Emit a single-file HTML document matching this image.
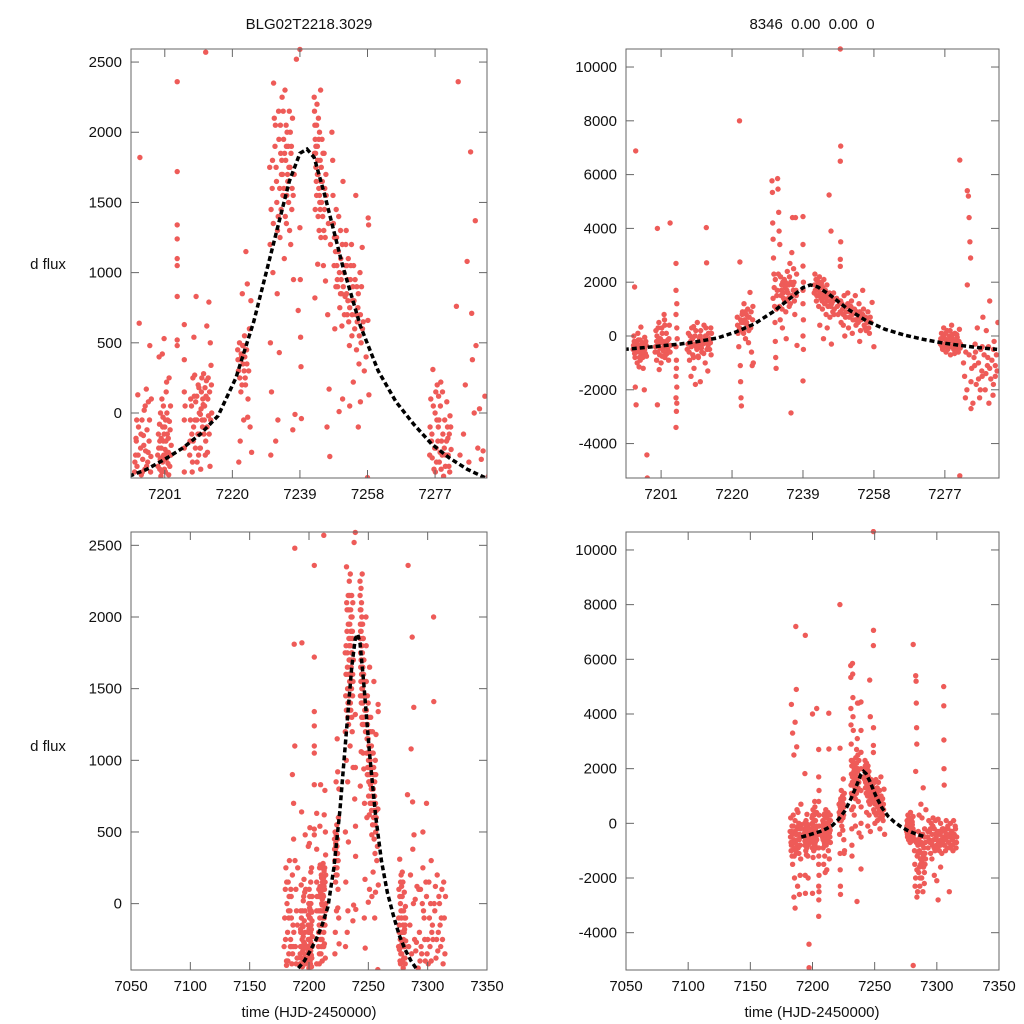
<!DOCTYPE html>
<html><head><meta charset="utf-8"><style>
html,body{margin:0;padding:0;background:#fff;}
svg{display:block;font-family:"Liberation Sans",sans-serif;}
</style></head><body>
<svg id="chart" width="1024" height="1024" viewBox="0 0 1024 1024" xmlns="http://www.w3.org/2000/svg">
<text x="309" y="29" font-size="15" text-anchor="middle" fill="#111">BLG02T2218.3029</text>
<text x="812" y="29" font-size="15" text-anchor="middle" fill="#111" xml:space="preserve">8346  0.00  0.00  0</text>
<text x="48" y="269" font-size="15" text-anchor="middle" fill="#111">d flux</text>
<text x="48" y="751" font-size="15" text-anchor="middle" fill="#111">d flux</text>
<text x="309" y="1017" font-size="15" text-anchor="middle" fill="#111">time (HJD-2450000)</text>
<text x="812" y="1017" font-size="15" text-anchor="middle" fill="#111">time (HJD-2450000)</text>
</svg>
<script>
const dataA = [
[7179,-300],[7179.5,-100],[7180,100],[7180.5,250],[7181,-400],[7181.5,0],[7182,-200],[7182.5,150],[7183,-350],[7183.5,300],[7184,-50],[7184.5,-250],[7185,50],[7185.5,-420],[7186,200],[7186.5,-150],[7187,700],[7187.5,1810],[7188,2480],[7188.5,-300],[7189,100],[7189.5,-50],[7190,-380],[7190.5,250],[7181,-430],[7183,-100],[7185,-300],[7187,450],[7188,1100],[7186,900],
[7192.5,-420],[7192.8,-300],[7193,-200],[7193.2,-380],[7193.4,130],[7193.6,-100],[7193.8,640],[7194,1820],[7194.2,-250],[7194.4,-440],[7194.6,-50],[7194.8,-330],[7195,-160],[7195.2,20],[7195.4,-400],[7195.6,-270],[7195.8,170],[7196,-120],[7196.2,-350],[7196.4,80],[7196.6,-200],[7196.8,480],[7197,-420],[7197.2,100],
[7199,-300],[7199.2,-150],[7199.4,400],[7199.6,-400],[7199.8,0],[7200,-250],[7200.2,100],[7200.4,-350],[7200.6,-200],[7200.8,530],[7201,-100],[7201.2,-420],[7201.4,150],[7201.6,-280],[7201.8,-50],[7202,-180],[7202.2,250],[7202.4,-380],[7202.6,50],[7202.8,-230],[7200.1,-320],[7200.5,-30],[7201.1,-260],[7201.5,220],[7201.9,-360],[7200.3,420],[7199.9,-450],[7202.5,-120],[7201.3,-200],[7200.7,-300],
[7204.5,2360],[7204.5,1720],[7204.5,1340],[7204.5,1240],[7204.5,1100],[7204.5,1050],[7204.5,830],[7204.5,520],[7204.5,480],[7206.5,630],[7206.5,380],[7206.5,150],[7206.5,-50],[7206.5,-250],[7206.5,-420],[7206.7,50],
[7208,-300],[7208.3,100],[7208.6,-150],[7208.9,250],[7209.2,540],[7209.5,-50],[7209.8,830],[7210.1,-350],[7210.4,200],[7210.7,0],[7211,-250],[7211.3,150],[7211.6,-100],[7211.9,280],[7212.2,50],[7212.5,-200],[7212.8,620],[7213.1,100],[7213.4,790],[7213.7,-380],[7214,340],[7208.2,-50],[7209,-200],[7209.7,80],[7210.5,-300],[7211.2,30],[7212,-150],[7212.7,230],[7213.3,-20],[7210,120],[7211.5,-50],[7212.3,180],[7213,-280],[7213.8,500],[7214.2,0],[7209.4,270],[7210.8,-150],[7211.8,60],
[7221.5,450],[7221.7,300],[7222,500],[7222.2,-200],[7222.4,150],[7222.6,400],[7222.8,850],[7223,350],[7223.2,-50],[7223.4,550],[7223.6,250],[7223.8,1150],[7224,450],[7224.2,920],[7224.4,100],[7224.6,300],[7224.8,600],[7225,-100],[7225.2,800],[7225.4,-280],[7221.8,-350],[7222.3,380],[7223.1,480],[7223.7,200],[7224.3,-30],
[7230.5,1750],[7230.6,1200],[7230.7,500],[7230.8,-300],[7230.9,1450],[7231,150],[7231.2,1600],[7231.4,1000],[7231.6,2350],[7231.8,2100],[7232,1900],[7232.2,-200],[7232.4,1650],[7232.6,850],[7232.8,-50],[7233,2150],[7233.2,430],[7233.4,1250],[7233.6,1850],[7233.8,1700],[7234,2250],[7234.2,1550],[7234.4,1950],[7234.6,1100],[7234.8,2300],[7235,1800],[7235.2,1350],[7235.4,2000],[7235.6,1650],[7235.8,1500],[7236,2150],[7236.2,1750],[7236.4,1200],[7236.6,1900],[7236.8,1600],[7237,-120],[7237.2,950],[7237.4,1700],[7237.6,-10],[7238.5,730],[7239,1320],[7239.1,950],[7239.2,540],[7239.3,330],[7239.4,-40],[7233.9,1800],[7234.5,1600],[7235.5,1700],[7232.9,1400],[7236.5,1850],
[7243,2250],[7243.1,2150],[7243.2,2050],[7243.3,1950],[7243.4,1850],[7243.5,1750],[7243.6,1650],[7243.7,1550],[7243.8,2200],[7243.9,1900],[7244,1800],[7244.1,1700],[7244.2,2100],[7244.3,1600],[7244.4,1300],[7244.5,2000],[7244.6,1500],[7244.7,1450],[7244.8,2300],[7244.9,1250],[7245,1750],[7245.2,1950],[7245.4,1400],[7245.6,1050],[7245.8,1850],[7246,1600],[7246.2,940],[7246.4,1550],[7246.6,-100],[7246.8,700],[7247,1350],[7247.2,170],[7247.4,-310],[7247.6,1200],[7243.2,820],[7244,1060],
[7248,2000],[7248.2,1800],[7248.4,1350],[7248.6,1050],[7248.8,600],[7249,1150],[7249.3,1250],[7249.6,900],[7249.9,1400],[7250.2,750],[7250.5,1100],[7250.8,620],[7251.1,1650],[7251.4,1000],[7251.7,830],[7252,1300],[7252.3,700],[7252.6,1100],[7252.9,480],[7253.2,950],[7253.5,1200],[7253.8,800],[7254.1,1050],[7254.4,600],[7254.7,1550],[7255,900],[7255.3,750],[7255.6,350],[7255.9,1000],[7256.2,500],[7256.5,1180],[7256.8,650],[7257.1,300],[7250,10],[7251,100],[7253,50],[7254,220],[7255.4,-100],[7256,80],[7249.5,950],[7250.7,850],[7252.2,1050],[7253.7,700],[7254.9,450],[7251.9,1200],[7250.4,1300],[7257.6,400],[7258.1,660],[7258.2,1390],[7258.3,1340],[7258.4,130],[7258,-460],
[7275.5,-300],[7275.8,100],[7276.1,-150],[7276.4,310],[7276.7,-400],[7277,0],[7277.3,-250],[7277.6,200],[7277.9,-100],[7278.2,-350],[7278.5,50],[7278.8,-200],[7279.1,150],[7279.4,-450],[7279.7,-50],[7280,-300],[7280.3,80],[7280.6,-180],[7280.9,-380],[7281.2,-20],[7281.5,-260],[7276,-200],[7277.5,-50],[7279,-300],[7280.5,-100],[7278,120],[7277.1,-420],[7281,-150],
[7283,760],[7283.5,2360],[7284,-300],[7285,-150],[7285.5,200],[7286,1080],[7286.5,-350],[7287,1860],[7287.3,710],[7287.5,380],[7288,0],[7288.3,1370],[7288.5,480],[7289,-250],[7289.5,30],[7290,-330],[7291,120],[7290.5,-270],
[7293,-200],[7294,100],[7295,-350],[7296,250],[7297,-100],[7298,-400],[7299,50],[7300,-250],[7301,150],[7302,-300],[7303,300],[7304,-150],[7305,2000],[7305.2,1410],[7306,-50],[7307,-380],[7308,200],[7309,-200],[7310,0],[7311,-300],[7312,100],[7313,-420],[7314,-100],[7315,50],[7294.5,-300],[7296.5,-50],[7298.5,150],[7300.5,-420],[7302.5,0],[7304.5,-250],[7306.5,120],[7308.5,-330],[7310.5,-150],[7312.5,-250],[7296,500],[7299,700],[7292,-450],[7303,-400],
[7212.5,2570],[7238,2520],[7239,2590],
[7192.6,-350],[7193.1,-50],[7193.5,-300],[7194.3,-150],[7194.7,-420],[7195.1,-230],[7195.5,50],[7195.9,-380],[7196.3,-280],[7196.7,-50],[7197.1,-310],[7192.9,-180],
[7199.1,-380],[7199.3,-250],[7199.5,-80],[7199.7,-330],[7200,-180],[7200.2,-420],[7200.4,-100],[7200.6,50],[7200.9,-400],[7201,-300],[7201.2,-50],[7201.4,-330],[7201.7,-150],[7202,-280],[7202.1,-440],[7202.3,-60],[7202.7,-300],[7199.6,-200],[7200.8,-150],[7201.6,0],
[7208.1,-200],[7208.5,50],[7208.8,-350],[7209.1,-100],[7209.3,120],[7209.6,-250],[7210,-50],[7210.3,-150],[7210.6,180],[7210.9,-250],[7211.1,-400],[7211.4,250],[7211.7,100],[7212.1,-50],[7212.4,-300],[7212.6,120],[7212.9,-100],[7213.2,250],[7213.5,-150],[7213.6,150],[7213.9,-50],[7214.1,200],[7208.7,-420],[7211,-10],
[7222.1,250],[7222.5,420],[7222.9,480],[7223.3,300],[7223.5,400],[7224.1,350],[7221.6,380],[7222.7,200],
[7231.3,1800],[7231.5,1350],[7232.1,2050],[7232.3,1750],[7232.5,1500],[7233.1,1950],[7233.3,1600],[7233.5,2050],[7233.7,1450],[7234.1,1700],[7234.3,2150],[7234.7,1850],[7234.9,1400],[7235.1,2050],[7235.3,1550],[7235.7,1900],[7235.9,1750],[7236.1,1300],[7236.3,2000],[7236.7,1450],[7236.9,2100],[7232.7,1300],[7235.2,1900],[7237.1,1550],
[7243.1,1850],[7243.3,1450],[7243.5,1900],[7243.7,2050],[7243.9,1700],[7244.1,1400],[7244.3,1950],[7244.5,1550],[7244.7,1800],[7244.9,1650],[7245.1,1500],[7245.3,1650],[7245.5,1850],[7245.7,1300],[7245.9,1450],[7246.1,1250],[7246.3,1700],
[7248.3,1550],[7248.7,1250],[7249.1,900],[7249.4,1050],[7249.8,1150],[7250.1,1000],[7250.4,850],[7250.9,1200],[7251.2,900],[7251.5,700],[7251.8,1050],[7252.1,850],[7252.4,950],[7252.7,650],[7253,750],[7253.3,1050],[7253.6,550],[7253.9,900],[7254.2,800],[7254.5,950],[7254.8,700],[7255.1,650],[7255.4,850],[7255.7,550],[7256,700],[7256.3,900],[7256.6,600],[7249.2,1450],[7250.6,950],[7252.5,800],
[7275.6,-100],[7276.2,-320],[7276.5,50],[7276.9,-250],[7277.2,150],[7277.4,-350],[7277.8,-200],[7278.1,-50],[7278.4,-280],[7278.7,-400],[7279.2,-150],[7279.6,-250],[7279.9,-380],[7280.2,-200],[7280.7,-300],[7281.1,-420],[7281.4,-100],[7278.6,220],
[7180.2,-250],[7181.2,150],[7182.2,-400],[7183.2,50],[7184.2,-300],[7185.2,-100],[7186.2,-350],[7187.2,-200],[7188.2,300],[7189.2,-420],[7190.2,-150],[7182.7,-50],[7184.7,100],[7186.7,-300],
[7292.5,100],[7293.5,-400],[7295.5,0],[7297.5,-250],[7299.5,-350],[7301.5,-100],[7303.5,-200],[7305.5,0],[7307.5,-250],[7309.5,50],[7311.5,-100],[7313.5,150],[7314.5,-350]
];
const dataB = [
[7182,-300],[7182.5,200],[7183,-800],[7183.5,-100],[7184,-1500],[7184.5,300],[7185,-600],[7185.5,-2000],[7186,100],[7186.5,-400],[7187,-1100],[7187.5,500],[7188,-200],[7188.5,-900],[7189,0],[7189.5,-2600],[7190,-500],[7190.5,-1300],[7191,-50],[7183,4350],[7184,3300],[7185,2500],[7186,3700],[7187,4900],[7187.3,2800],[7186.6,7200],[7186,-3100],[7188,-2300],[7185,-2700],[7190,-1900],[7184.5,-700],[7186,-300],[7188.3,400],[7189.3,-600],[7190.7,700],[7182.8,-1000],[7183.8,-350],[7185.3,-1200],
[7193.5,-500],[7193.8,-200],[7194,-800],[7194.2,6880],[7194.4,-300],[7194.6,-1000],[7194.8,100],[7195,-600],[7195.2,-400],[7195.4,-900],[7195.6,330],[7195.8,-700],[7196,-250],[7196.2,-1200],[7196.4,-450],[7196.6,-50],[7196.8,-650],[7197,-350],[7197.2,-4420],[7197.3,-5280],[7193.9,1820],[7194.1,-1900],[7194.3,-2560],[7195.1,-1150],[7196.5,-2000],[7195.3,-550],[7194.9,-150],[7196.1,-800],
[7199.4,-600],[7199.6,200],[7199.8,-900],[7200,4000],[7200,-2560],[7200.2,-300],[7200.4,500],[7200.6,-700],[7200.8,-100],[7201,-1000],[7201.2,300],[7201.4,-500],[7201.6,-200],[7201.8,800],[7202,-800],[7202.2,-400],[7202.4,100],[7202.6,-650],[7202.8,-150],[7203,-900],[7203.2,400],[7203.4,4200],[7203.5,-350],[7200.5,-1250],[7201.9,600],[7202.9,-550],[7199.9,0],[7201.3,-750],
[7205,2700],[7205,1700],[7205.2,1200],[7205,800],[7205.2,300],[7205,-400],[7205.1,-900],[7205,-1500],[7205.2,-1900],[7205,-2300],[7205.1,-2800],[7205,-3400],[7205.2,-2500],[7205.1,-1200],[7205.3,-100],
[7208,-500],[7208.3,100],[7208.6,-900],[7208.9,-200],[7209.2,300],[7209.5,-700],[7209.8,-1200],[7210.1,0],[7210.4,-400],[7210.7,500],[7211,-800],[7211.3,-100],[7211.6,200],[7211.9,-600],[7212.2,-300],[7212.5,400],[7212.8,-1000],[7213.1,4030],[7213.2,2720],[7213.4,-200],[7213.7,100],[7214,-500],[7214.3,300],[7209,-1500],[7210.2,-1800],[7211.5,-1700],[7212.1,-300],[7213.5,-1300],[7214.4,-700],[7210.9,-250],[7209.7,350],[7212.9,0],
[7221.4,700],[7221.6,100],[7221.8,-400],[7222,300],[7222,8000],[7222.1,2750],[7222.2,-1100],[7222.3,-1700],[7222.4,-2300],[7222.5,-2600],[7222.6,500],[7222.8,900],[7223,200],[7223.2,1200],[7223.4,600],[7223.6,-100],[7223.8,800],[7224,400],[7224.2,1000],[7224.4,-250],[7224.6,700],[7224.8,1620],[7225,300],[7225.2,-600],[7225.4,-1100],[7225.6,1100],[7225.7,-1000],[7223.1,500],[7224.5,200],
[7230.7,5770],[7230.8,5340],[7230.9,4200],[7231,3600],[7231.1,2900],[7231.2,2300],[7231.3,1800],[7231.4,1100],[7231.5,500],[7231.6,-200],[7231.7,-800],[7231.8,-1200],[7232,1500],[7232.2,5850],[7232.3,5460],[7232.5,4600],[7232.6,3900],[7232.8,3400],[7233,2200],[7233.2,1700],[7233.4,1000],[7233.6,2000],[7233.8,1400],[7234,2100],[7234.2,1800],[7234.4,900],[7234.6,1300],[7234.8,2400],[7235,1600],[7235.2,1900],[7235.4,2200],[7235.6,1200],[7235.8,-2860],[7236,3100],[7236.2,4400],[7236.4,1700],[7236.6,2000],[7236.8,800],[7237,4400],[7237.2,1500],[7237.4,-350],[7233.5,300],[7234.5,-100],[7236.5,2500],[7235.5,2700],[7233.9,1900],[7231.9,1000],[7232.9,600],[7237.3,2300],
[7239,4440],[7239,3400],[7239,2600],[7239.1,2000],[7239,1700],[7239,1200],[7239.1,600],[7239,0],[7239,-1670],[7239.1,-500],
[7242,1600],[7242.2,2300],[7242.4,1900],[7242.6,1300],[7242.8,2100],[7243,1700],[7243.2,1100],[7243.4,2200],[7243.6,1800],[7243.8,1400],[7244,2000],[7244.2,1000],[7244.4,1600],[7244.6,2100],[7244.8,1200],[7245,1700],[7245.2,800],[7245.4,1900],[7245.6,1300],[7245.8,1500],[7246,5240],[7246.5,3900],[7246.2,700],[7246.4,1100],[7246.6,-300],[7246.8,1400],[7247,900],[7247.2,1600],[7247.4,1000],[7243.5,400],[7244.5,-100],[7245.5,300],
[7249,10670],[7249.1,7060],[7249,6500],[7249.1,3500],[7249,2850],[7249,2590],[7249.1,1300],
[7248,1400],[7248.4,800],[7248.8,1200],[7249.2,500],[7249.6,1000],[7250,1500],[7250.4,700],[7250.8,1100],[7251.2,300],[7251.6,900],[7252,1300],[7252.4,600],[7252.8,1000],[7253.2,400],[7253.6,800],[7254,1200],[7254.4,200],[7254.8,700],[7255.2,1000],[7255.6,300],[7256,600],[7256.4,900],[7256.8,100],[7257.2,500],[7255,1700],[7253,1500],[7251,1600],[7250.2,0],[7252.2,100],[7254.2,-200],[7257.5,1250],[7258,-400],[7249.8,400],[7251.9,1000],[7253.9,700],[7255.9,200],
[7275.8,-300],[7276.1,100],[7276.4,-500],[7276.7,300],[7277,-100],[7277.3,-600],[7277.6,200],[7277.9,-300],[7278.2,0],[7278.5,-700],[7278.8,400],[7279.1,-200],[7279.4,-500],[7279.7,100],[7280,-400],[7280.3,-50],[7280.6,-600],[7280.9,250],[7281.2,-300],[7276,-150],[7277.5,-400],[7279,50],[7280.5,-250],[7281,6540],[7281,-5200],
[7282,-1000],[7282.3,-1500],[7282.6,-600],[7282.9,-2000],[7283,5400],[7283.3,5200],[7283.5,4400],[7283.7,3500],[7283.9,2900],[7284.2,-1200],[7284.5,-2500],[7284.8,-800],[7285.1,-300],[7285.4,-1800],[7285.7,300],[7286,-1000],[7286.3,-2300],[7286.6,-500],[7286.9,-1300],[7287.2,700],[7287.5,-700],[7287.8,-2000],[7288.1,200],[7288.4,-1100],[7288.7,-400],[7289,1300],[7289.3,-1600],[7289.6,-900],[7289.9,-2200],[7290.2,-200],[7290.5,-1100],[7290.8,-700],[7291.2,500],[7283,1900],[7282.5,-2300],[7284,-2700],[7285.2,-600],[7287,-1500],[7288.8,-2500],[7290,-1800],
[7292.5,-500],[7293,-900],[7293.5,100],[7294,-300],[7294.5,-700],[7295,-1100],[7295.5,0],[7296,-400],[7296.5,-800],[7297,200],[7297.5,-600],[7298,-200],[7298.5,-1000],[7299,100],[7299.5,-500],[7300,-800],[7300.5,-300],[7301,150],[7301.5,-700],[7302,-1000],[7302.5,-400],[7303,0],[7303.5,-600],[7304,-1100],[7304.5,-200],[7305,-500],[7305.5,5000],[7305.6,4300],[7305.7,3050],[7305.8,2000],[7305.9,1400],[7306,-800],[7306.5,-300],[7307,-1000],[7307.5,100],[7308,-500],[7308.5,-900],[7309,-200],[7309.5,-700],[7310,-2500],[7310.5,-400],[7311,0],[7311.5,-800],[7312,-300],[7312.5,-600],[7313,-1000],[7313.5,100],[7314,-400],[7314.5,-700],[7315,-200],[7315.5,-900],[7316,-500],[7301,-2800],[7298,-1900],[7300,-2100],[7303,-1600],[7296,-1300],
[7193.6,-350],[7193.9,-650],[7194.2,-450],[7194.5,-200],[7194.8,-550],[7195.1,-350],[7195.4,-150],[7195.7,-450],[7196,-600],[7196.3,-300],[7196.6,-500],[7196.9,-200],[7197.1,-750],[7193.7,0],[7195.2,-800],
[7199.5,-400],[7199.8,-200],[7200.1,-600],[7200.4,-100],[7200.7,-450],[7201,-250],[7201.3,100],[7201.6,-550],[7201.9,-350],[7202.2,-700],[7202.5,-200],[7202.8,-450],[7203.1,-100],[7203.4,-600],[7200.2,300],[7202,400],
[7208.2,-300],[7208.5,-600],[7208.8,0],[7209.1,-400],[7209.4,-100],[7209.7,-800],[7210,-300],[7210.3,200],[7210.6,-500],[7210.9,-750],[7211.2,-350],[7211.5,0],[7211.8,-450],[7212.1,-150],[7212.4,-650],[7212.7,-250],[7213,300],[7213.3,-500],[7213.6,-350],[7213.9,-100],[7214.2,-250],[7214.5,100],
[7221.5,400],[7221.9,200],[7222.3,600],[7222.7,800],[7223.1,100],[7223.5,900],[7223.9,500],[7224.3,700],[7224.7,300],[7225.1,900],[7225.5,600],
[7231,1400],[7231.6,2100],[7232.1,1700],[7232.4,2300],[7232.7,1100],[7233.1,1500],[7233.3,1900],[7233.7,1600],[7234.1,1300],[7234.3,2000],[7234.7,1700],[7235.1,1400],[7235.3,1100],[7235.7,2000],[7236.1,1500],[7236.3,1900],[7236.7,1300],[7237.1,1700],
[7242.1,1900],[7242.3,1700],[7242.5,2100],[7242.7,1500],[7242.9,1800],[7243.1,2000],[7243.3,1500],[7243.7,1600],[7243.9,1900],[7244.1,1300],[7244.3,1800],[7244.7,1500],[7244.9,1700],[7245.1,1400],[7245.3,1600],[7245.7,1100],[7245.9,1300],[7246.1,1600],[7246.7,1200],[7247.1,1300],[7247.3,800],
[7248.2,1100],[7248.6,1300],[7249,900],[7249.4,1200],[7249.8,800],[7250.2,1100],[7250.6,900],[7251,1200],[7251.4,700],[7251.8,1100],[7252.2,800],[7252.6,1000],[7253,600],[7253.4,900],[7253.8,500],[7254.2,900],[7254.6,600],[7255,800],[7255.4,400],[7255.8,700],[7256.2,500],[7256.6,300],[7257,700],
[7275.9,-100],[7276.3,-400],[7276.6,0],[7276.9,-300],[7277.2,100],[7277.5,-200],[7277.8,-500],[7278.1,-150],[7278.4,200],[7278.7,-400],[7279,-100],[7279.3,-350],[7279.6,-650],[7279.9,-200],[7280.2,50],[7280.5,-500],[7280.8,-200],[7281.1,-450],
[7182.3,-500],[7182.7,-700],[7183.2,-300],[7183.6,-1200],[7184.1,-400],[7184.6,-100],[7185.1,-900],[7185.6,-300],[7186.1,-700],[7186.6,-1000],[7187.1,-400],[7187.6,-800],[7188.1,-600],[7188.6,-100],[7189.1,-1100],[7189.6,-400],[7190.1,-800],[7190.6,-200],
[7292.8,-300],[7293.8,-600],[7294.8,-200],[7295.8,-700],[7296.8,-100],[7297.8,-900],[7298.8,-400],[7299.8,-600],[7300.8,-900],[7301.8,-300],[7302.8,-800],[7303.8,-300],[7304.8,-700],[7305.3,-200],[7306.8,-600],[7307.8,-400],[7308.8,-100],[7309.8,-500],[7310.8,-900],[7311.8,-300],[7312.8,-800],[7313.8,-500],[7314.8,-100],[7315.8,-700],
[7284,-1700],[7285,-1100],[7286,-1600],[7287,-400],[7288,-1400],[7289,-1200],[7290,-500],[7291,-1300],[7283.5,-700],[7286.5,-2000],[7288.5,-800],[7290.5,-1500]
];
const modelT = [7191,7196,7201,7206,7211,7216,7221,7226,7231,7236,7239,7241,7243,7246,7251,7256,7261,7266,7271,7276,7281,7286,7291];
const modelA = [-450,-400,-330,-250,-150,-20,250,650,1150,1650,1850,1880,1820,1550,1050,620,300,80,-80,-220,-320,-400,-460];
const modelB = [-500,-440,-370,-300,-200,-80,150,450,900,1450,1800,1900,1820,1550,1000,560,250,40,-120,-250,-350,-430,-500];
const zoomTicks = [7201,7220,7239,7258,7277];
const fullTicks = [7050,7100,7150,7200,7250,7300,7350];
const ticksA = [0,500,1000,1500,2000,2500];
const ticksB = [-4000,-2000,0,2000,4000,6000,8000,10000];

const NS='http://www.w3.org/2000/svg';
const svg=document.getElementById('chart');
function mk(tag,attrs,parent){const e=document.createElementNS(NS,tag);for(const k in attrs)e.setAttribute(k,attrs[k]);(parent||svg).appendChild(e);return e;}

const panels=[
 {id:'top-left',x0:131,x1:487,y0:49,y1:478,t0:7191.5,t1:7291.6,f0:-463,f1:2593,data:dataA,model:modelA,xt:zoomTicks,yt:ticksA},
 {id:'top-right',x0:626,x1:999,y0:49,y1:478,t0:7191.6,t1:7291.5,f0:-5280,f1:10670,data:dataB,model:modelB,xt:zoomTicks,yt:ticksB},
 {id:'bottom-left',x0:131,x1:487,y0:532,y1:970,t0:7050,t1:7350,f0:-463,f1:2593,data:dataA,model:modelA,xt:fullTicks,yt:ticksA},
 {id:'bottom-right',x0:626,x1:999,y0:532,y1:970,t0:7050,t1:7350,f0:-5365,f1:10657,data:dataB,model:modelB,xt:fullTicks,yt:ticksB}
];
panels.forEach((p,i)=>{
 const sx=t=>p.x0+(t-p.t0)/(p.t1-p.t0)*(p.x1-p.x0);
 const sy=f=>p.y1-(f-p.f0)/(p.f1-p.f0)*(p.y1-p.y0);
 const g=mk('g',{});
 
 
 const cp=mk('clipPath',{id:'clip'+i},g);
 mk('rect',{x:p.x0,y:p.y0-3,width:p.x1-p.x0,height:p.y1-p.y0+3},cp);
 const pts=mk('g',{'clip-path':'url(#clip'+i+')',fill:'#ee5b58'},g);
 
 
 p.data.forEach(d=>{
  const x=sx(d[0]),y=sy(d[1]);
  if(x<p.x0-3||x>p.x1+3)return;
  const c=mk('circle',{cx:x.toFixed(1),cy:y.toFixed(1),r:2.7},pts);
  
  
 });
 let dpath='';
 modelT.forEach((t,k)=>{dpath+=(k?'L':'M')+sx(t).toFixed(1)+','+sy(p.model[k]).toFixed(1);});
 const ml=mk('path',{d:dpath,fill:'none',stroke:'#000','stroke-width':3.5,'stroke-dasharray':'5,3','clip-path':'url(#clip'+i+')'},g);
 
 
 const box=mk('rect',{x:p.x0,y:p.y0,width:p.x1-p.x0,height:p.y1-p.y0,fill:'none',stroke:'#666','stroke-width':1},g);
 
 
 p.xt.forEach(t=>{
  const x=sx(t);
  mk('line',{x1:x,x2:x,y1:p.y1,y2:p.y1-8,stroke:'#666'},g);
  mk('line',{x1:x,x2:x,y1:p.y0,y2:p.y0+8,stroke:'#666'},g);
  const tx=mk('text',{x:x,y:p.y1+21,'font-size':15,'text-anchor':'middle',fill:'#111'},g);
  tx.textContent=t;
  
  
 });
 p.yt.forEach(f=>{
  const y=sy(f);
  mk('line',{x1:p.x0,x2:p.x0+8,y1:y,y2:y,stroke:'#666'},g);
  mk('line',{x1:p.x1,x2:p.x1-8,y1:y,y2:y,stroke:'#666'},g);
  const ty=mk('text',{x:p.x0-9,y:y+5,'font-size':15,'text-anchor':'end',fill:'#111'},g);
  ty.textContent=f;
  
  
 });
});
</script>
</body></html>
